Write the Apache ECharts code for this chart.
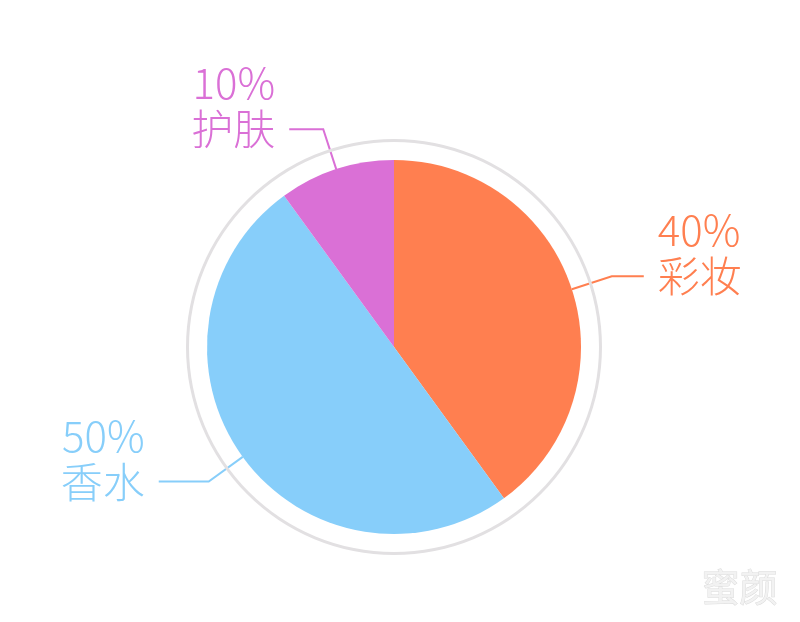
<!DOCTYPE html>
<html><head><meta charset="utf-8">
<script src="https://cdn.jsdelivr.net/npm/echarts@6/dist/echarts.min.js"></script>
<style>html,body{margin:0;padding:0;background:#fff}#c{width:800px;height:622px}</style>
</head><body><div id="c"></div>
<script>
const categories = ['彩妆', '香水', '护肤'];
const values = [40, 50, 10];
const colors = ['#ff7f50', '#87cefa', '#da70d6'];
const lineLen2 = [32, 50, 34];

const chart = echarts.init(document.getElementById('c'));
chart.setOption({
  backgroundColor: '#ffffff',
  animation: false,
  series: [
    {
      type: 'pie', silent: true, center: [394, 347], radius: [205, 208],
      label: { show: false }, labelLine: { show: false },
      itemStyle: { color: '#e2e0e2' },
      data: [{ value: 1, name: 'ring' }]
    },
    {
      type: 'pie', center: [394, 347], radius: [0, 187], startAngle: 90, clockwise: true,
      data: categories.map((n, i) => ({ name: n, value: values[i], itemStyle: { color: colors[i] },
        label: { color: colors[i] },
        labelLine: { length2: lineLen2[i], lineStyle: { color: colors[i] } } })),
      label: {
        show: true, formatter: '{c}%\n{b}\n ', fontSize: 42, lineHeight: 46,
        fontFamily: 'Noto Sans CJK SC', fontWeight: 300, padding: [0, 9]
      },
      labelLine: { show: true, length: 42, length2: 34, smooth: false, lineStyle: { width: 2 } }
    }
  ],
  graphic: [{
    type: 'text', right: 22, bottom: 16,
    style: { text: '蜜颜', fontSize: 38, fontFamily: 'Noto Sans CJK SC', fill: '#f2f2f2', stroke: '#dcdcdc', lineWidth: 1 }
  }]
});
</script></body></html>
